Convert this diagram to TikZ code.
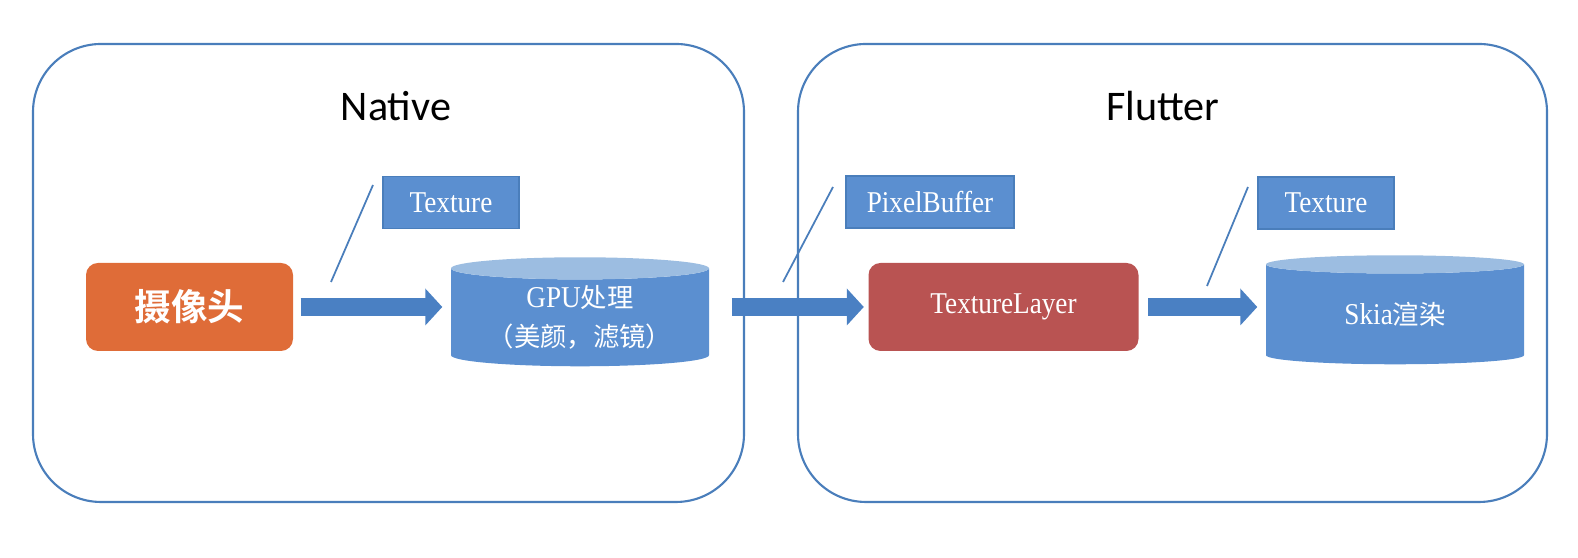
\documentclass[tikz,border=0pt]{standalone}
\usepackage{fontspec}
\usetikzlibrary{shapes.geometric,arrows.meta}
\setmainfont{Liberation Serif}
\newfontfamily\labelfont[FakeStretch=0.9]{Liberation Serif}
\newfontfamily\cjkfont{Noto Sans CJK SC}
\newfontfamily\cjkbold{Noto Sans CJK SC Bold}
\newfontfamily\titlefont{Carlito}

\definecolor{panelblue}{HTML}{4A7EBB}
\definecolor{boxblue}{HTML}{5B8FD0}
\definecolor{capblue}{HTML}{9CBDE1}
\definecolor{arrowblue}{HTML}{4A80C3}
\definecolor{camorange}{HTML}{DF6C38}
\definecolor{layerred}{HTML}{B95352}

\begin{document}
\begin{tikzpicture}[
            panel/.style={shape=rectangle, draw=panelblue, line width=0.6pt, rounded corners=0.68cm, minimum height=4.58cm},
            heading/.style={font=\titlefont\fontsize{12}{14}\selectfont},
            tag/.style={shape=rectangle, draw=panelblue, fill=boxblue, text=white, font=\labelfont\fontsize{8.6}{10}\selectfont, minimum height=0.52cm},
            stage/.style={shape=rectangle, rounded corners=0.12cm, text=white, minimum height=0.88cm},
            store/.style={shape=cylinder, shape border rotate=90, aspect=0.18, cylinder uses custom fill, cylinder body fill=boxblue, cylinder end fill=capblue, text=white, minimum width=2.58cm, minimum height=1.09cm, inner sep=0pt, anchor=south, align=center, font=\labelfont\fontsize{8.6}{11}\selectfont},
            flow/.style={color=arrowblue, line width=0.18cm, -{Triangle[length=0.17cm, width=0.36cm]}},
            pointer/.style={draw=panelblue, line width=0.5pt}
        ]
            \useasboundingbox (0,0) rectangle (15.78,5.58);

            \node[panel, minimum width=7.11cm] (native) at (3.885, 2.85){};
            \node[panel, minimum width=7.49cm] (flutter) at (11.725, 2.85){};
            \node[heading] (nativetitle) at (3.96, 4.52){Native};
            \node[heading] (fluttertitle) at (11.63, 4.52){Flutter};

            \node[stage, fill=camorange, minimum width=2.07cm, font=\cjkbold\fontsize{10.4}{12}\selectfont] (camera) at (1.895, 2.51){摄像头};
            \node[store, aspect=0.12] (gpu) at (5.80, 1.91){GPU{\cjkfont\fontsize{7.5}{11}\selectfont 处理}\\{\cjkfont\fontsize{7.5}{11}\selectfont （美颜，滤镜）}};
            \node[stage, fill=layerred, minimum width=2.70cm, font=\labelfont\fontsize{8.6}{10}\selectfont] (layer) at (10.035, 2.51){TextureLayer};
            \node[store] (skia) at (13.95, 1.93){Skia{\cjkfont\fontsize{7.5}{11}\selectfont 渲染}};

            \node[tag, minimum width=1.36cm] (tex1) at (4.51, 3.555){Texture};
            \node[tag, minimum width=1.68cm] (pixbuf) at (9.30, 3.56){PixelBuffer};
            \node[tag, minimum width=1.36cm] (tex2) at (13.26, 3.55){Texture};

            \coordinate (p1a) at (3.31, 2.76);
            \coordinate (p1b) at (3.73, 3.73);
            \coordinate (p2a) at (7.83, 2.76);
            \coordinate (p2b) at (8.33, 3.71);
            \coordinate (p3a) at (12.07, 2.72);
            \coordinate (p3b) at (12.48, 3.71);

            \path [pointer] (p1a) edge (p1b);
            \path [pointer] (p2a) edge (p2b);
            \path [pointer] (p3a) edge (p3b);

            \path (camera.east) edge [flow, shorten <=0.07cm, shorten >=0.08cm] (camera.east -| gpu.west);
            \path (gpu.east |- layer.west) edge [flow, shorten <=0.22cm, shorten >=0.04cm] (layer.west);
            \path (layer.east) edge [flow, shorten <=0.09cm, shorten >=0.08cm] (layer.east -| skia.west);
        \end{tikzpicture}
\end{document}
